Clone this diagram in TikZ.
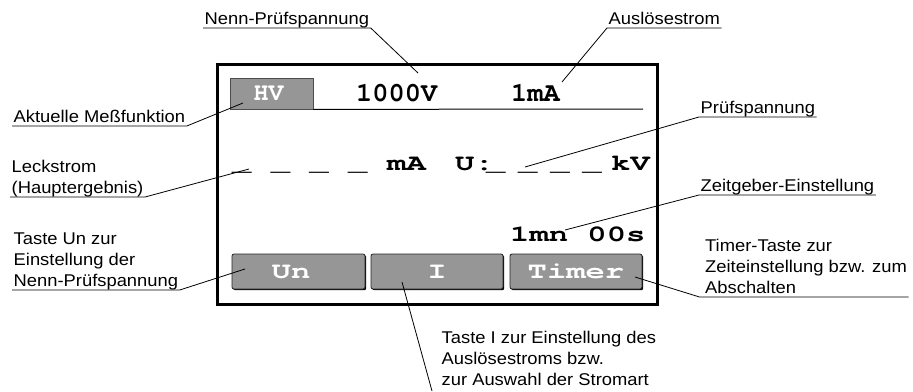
\documentclass[tikz,border=0pt]{standalone}
\usepackage{fontspec}
\usetikzlibrary{shadows}
\newfontfamily\labfont{Liberation Sans}[FakeStretch=1.08]
\newfontfamily\lcdfont{texgyrecursor-bold.otf}
\newfontfamily\lcdwide{texgyrecursor-bold.otf}[FakeStretch=1.4]
\definecolor{lcdgray}{RGB}{150,150,150}
\newcommand\udp{\rule[-3.5pt]{0pt}{3.5pt}}
\newcommand\nk{\kern-6.6pt\ }
\begin{document}
\begin{tikzpicture}[x=1pt,y=-1pt,
  lbl/.style={font=\labfont\fontsize{17}{21}\selectfont, align=left, inner xsep=1.5pt, inner ysep=0pt, anchor=south west},
  lead/.style={line width=0.8pt},
  lcdbig/.style={font=\lcdfont\fontsize{27}{27}\selectfont, inner sep=0pt, anchor=base west},
  lcdmid/.style={font=\lcdwide\fontsize{23}{23}\selectfont, inner sep=0pt, anchor=base west},
  btn/.style={draw=black!85, line width=0.8pt, fill=lcdgray, rounded corners=2pt, minimum height=35pt, inner sep=0pt,
    font=\lcdwide\fontsize{23}{23}\selectfont, text=white,
    drop shadow={shadow xshift=1.2pt, shadow yshift=-1.2pt, fill=black, opacity=1}}]
\useasboundingbox (0,0) rectangle (913,391);

% display frame
\node[draw, line width=3pt, minimum width=440pt, minimum height=240pt, inner sep=0pt] (frame) at (437,184) {};

% top row
\node[draw=black!70, line width=0.8pt, fill=lcdgray, minimum width=83pt, minimum height=31pt, inner sep=0pt,
      font=\lcdfont\fontsize{25}{25}\selectfont, text=white] (hv) at (271.5,93.5) {\hspace*{-6pt}HV};
\coordinate (sepR) at (643,109);
\draw[line width=1pt] (hv.south east) -- (sepR);
\node[lcdbig] (v1000) at (356,101) {1000V};
\node[lcdbig] (i1ma) at (511,101) {1mA};

% second row
\node[lcdmid] (lu) at (232,170) {\_ \_ \_ \_};
\node[lcdmid] (ma) at (387,170) {mA};
\node[lcdmid] (ulab) at (455,170) {U:};
\node[lcdmid] (ru) at (486,170) {\_\nk\_\nk\_\nk\_};
\node[lcdmid] (kv) at (611,170) {kV};

% timer value
\node[lcdmid] (timev) at (510,241) {1mn 00s};

% buttons
\node[btn, minimum width=133pt] (bun) at (298.5,271.5) {\hspace*{-15pt}Un};
\node[btn, minimum width=132pt] (bi) at (437,271.5) {I};
\node[btn, minimum width=132pt] (btimer) at (576,271.5) {Timer};

% leader targets
\coordinate (tnenn) at (418,73);
\coordinate (tausl) at (562,82);
\coordinate (takt) at (243,103);
\coordinate (tleck) at (249,169);
\coordinate (tun) at (245,269);
\coordinate (tpruef) at (525,167);
\coordinate (tzeit) at (565,230);
\coordinate (ttim) at (635,277);
\coordinate (tti) at (402,282);
\coordinate (iend) at (432,391);

% labels
\node[lbl] (nenn) at (203,28) {Nenn-Prüfspannung\udp};
\draw[lead] (nenn.south west) -- (nenn.south east) -- (tnenn);

\node[lbl] (ausl) at (607,28) {Auslösestrom\udp};
\draw[lead] (ausl.south east) -- (ausl.south west) -- (tausl);

\node[lbl] (akt) at (12,126) {Aktuelle Meßfunktion\udp};
\draw[lead] (akt.south west) -- (akt.south east) -- (takt);

\node[lbl] (leck) at (10,197) {Leckstrom\\(Hauptergebnis)\udp};
\draw[lead] (leck.south west) -- (leck.south east) -- (tleck);

\node[lbl] (taun) at (12,290) {Taste Un zur\\Einstellung der\\Nenn-Prüfspannung\udp};
\draw[lead] (taun.south west) -- (taun.south east) -- (tun);

\node[lbl] (pruef) at (699,117) {Prüfspannung\udp};
\draw[lead] (pruef.south east) -- (pruef.south west) -- (tpruef);

\node[lbl] (zeit) at (699,195) {Zeitgeber-Einstellung\udp};
\draw[lead] (zeit.south east) -- (zeit.south west) -- (tzeit);

\node[lbl] (timtaste) at (703.5,297) {Timer-Taste zur\\Zeiteinstellung bzw. zum\\Abschalten\udp};
\draw[lead] (timtaste.south east) -- ([xshift=-4pt]timtaste.south west) -- (ttim);

\node[lbl] (tastei) at (440,389.5) {Taste I zur Einstellung des\\Auslösestroms bzw.\\zur Auswahl der Stromart\udp};
\draw[lead] (tti) -- (iend);
\end{tikzpicture}
\end{document}
